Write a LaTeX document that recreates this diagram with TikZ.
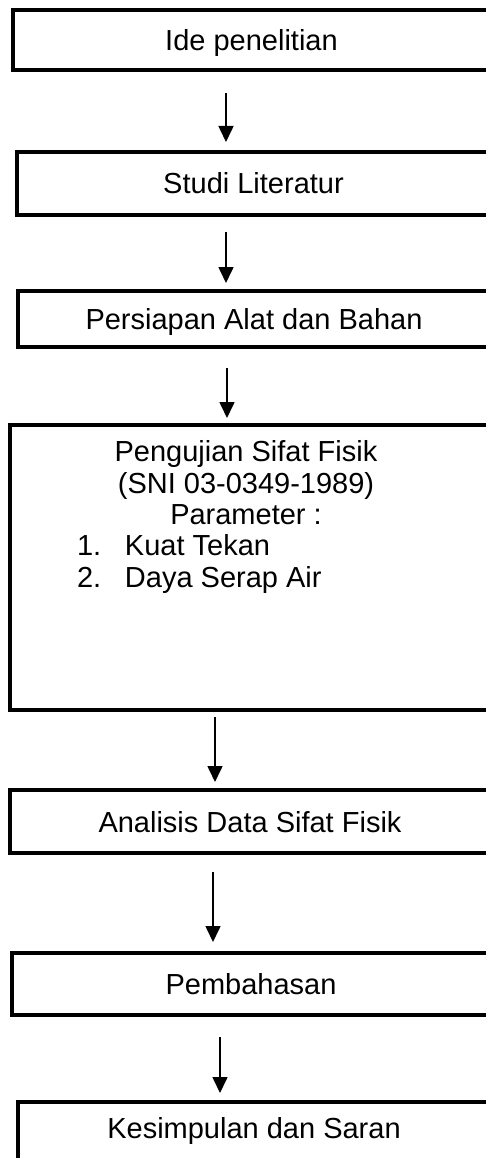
\documentclass[tikz,border=0pt]{standalone}
\usepackage{fontspec}
\setmainfont{Liberation Sans}
\usepackage{tikz}
\usetikzlibrary{arrows.meta}
\tikzstyle{process} = [rectangle, draw=black, line width=3.3pt, outer sep=0pt, inner sep=0pt, text height=21pt, text depth=0pt, font=\fontsize{29}{31.5}\selectfont]
\tikzstyle{boxtext} = [inner sep=0pt, outer sep=0pt, font=\fontsize{29}{31.5}\selectfont]
\tikzstyle{arrow} = [line width=1.6pt,-{Triangle[width=15pt,length=16pt]}]

\begin{document}
\begin{tikzpicture}[x=1pt,y=-1pt]
\useasboundingbox (0,0) rectangle (485,1158);
\node (idea) [process, minimum width=477pt, minimum height=60pt] at (251.5,40) {Ide penelitian};
\node (lit) [process, minimum width=473pt, minimum height=63pt] at (253.5,183.5) {Studi Literatur};
\node (prep) [process, minimum width=472pt, minimum height=56pt] at (254,319) {Persiapan Alat dan Bahan};
\node (test) [process, minimum width=480pt, minimum height=285pt] at (250,567.5) {};
\node (testhead) [boxtext, anchor=north, align=center] at (246,440.7) {Pengujian Sifat Fisik\\(SNI 03-0349-1989)\\Parameter :};
\node (testlist) [boxtext, anchor=north west, align=left] at (77,534.7) {\makebox[48pt][l]{1.}Kuat Tekan\\\makebox[48pt][l]{2.}Daya Serap Air};
\node (anal) [process, minimum width=480pt, minimum height=63pt] at (250,821.5) {Analisis Data Sifat Fisik};
\node (disc) [process, minimum width=478pt, minimum height=62pt] at (251,984) {Pembahasan};
% last box runs past the bottom edge
\node (concl) [process, minimum width=472pt, minimum height=63pt, text depth=12pt] at (254,1133.5) {Kesimpulan dan Saran};

\draw[arrow] ([xshift=-25.5pt,yshift=-23pt]idea.south) -- ([xshift=-27.5pt,yshift=10pt]lit.north);
\draw[arrow] ([xshift=-27.5pt,yshift=-17pt]lit.south) -- ([xshift=-28pt,yshift=8pt]prep.north);
\draw[arrow] ([xshift=-27pt,yshift=-21pt]prep.south) -- ([xshift=-23pt,yshift=7pt]test.north);
\draw[arrow] ([xshift=-35pt,yshift=-7pt]test.south) -- ([xshift=-35pt,yshift=8pt]anal.north);
\draw[arrow] ([xshift=-37pt,yshift=-19pt]anal.south) -- ([xshift=-38pt,yshift=11pt]disc.north);
\draw[arrow] ([xshift=-31pt,yshift=-22pt]disc.south) -- ([xshift=-34pt,yshift=9pt]concl.north);
\end{tikzpicture}
\end{document}
